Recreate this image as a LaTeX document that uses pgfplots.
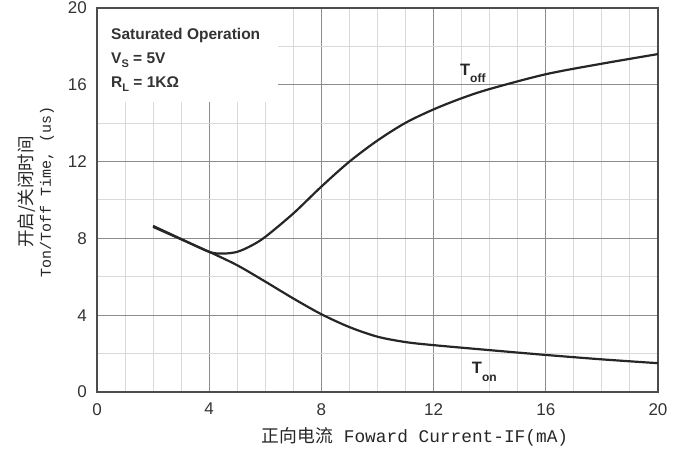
\documentclass[border=0pt]{standalone}
\usepackage{fontspec}
\setmainfont{Liberation Sans}
\setmonofont{Liberation Mono}
\newfontfamily\cjk{Noto Sans CJK SC}
\usepackage{pgfplots}
\pgfplotsset{compat=1.18}
\begin{document}
\begin{tikzpicture}
\begin{axis}[name=ax, scale only axis, width=561pt, height=384pt,
  xmin=0, xmax=20, ymin=0, ymax=20, clip=false,
  xtick={0,4,...,20}, ytick={0,4,...,20},
  minor x tick num=3, minor y tick num=1,
  grid=both,
  major grid style={line width=1.3pt, color=black!45},
  minor grid style={line width=1pt, color=black!15},
  major tick length=0pt, minor tick length=0pt,
  axis line style={line width=1.8pt, color=black!70},
  tick label style={font=\fontsize{17}{17}\selectfont, color=black!80},
  /pgf/number format/assume math mode=true,
  yticklabel style={inner sep=0pt, xshift=-10pt},
  xticklabel style={inner sep=0pt, yshift=-11pt},
]
\fill[white] ([xshift=1pt,yshift=-1pt]axis cs:0,20) rectangle (axis cs:6.45,15.1);

\addplot[smooth, line width=2.2pt, color=black!85] coordinates {
(2,8.6) (3,7.95) (4,7.3) (5,6.6) (6,5.75) (7,4.87) (8,4.05) (9,3.38) (10,2.88) (11,2.6) (12,2.44) (14,2.18) (16,1.93) (18,1.7) (20,1.5)};
\addplot[smooth, line width=2.2pt, color=black!85] coordinates {
(2,8.65) (3,7.97) (4,7.3) (4.5,7.21) (5,7.3) (5.5,7.62) (6,8.08) (7,9.3) (8,10.7) (9,12.0) (10,13.1) (11,14.02) (12,14.72) (13,15.3) (14,15.78) (16,16.55) (18,17.1) (20,17.6)};

\node[anchor=base west, font=\fontsize{15.5}{15.5}\selectfont\bfseries, color=black!80, inner sep=0pt] at (axis cs:0.5,18.37) {Saturated Operation};
\node[anchor=base west, font=\fontsize{15.5}{15.5}\selectfont\bfseries, color=black!80, inner sep=0pt] at (axis cs:0.5,17.1) {V\raisebox{-4pt}{\fontsize{11}{11}\selectfont S} = 5V};
\node[anchor=base west, font=\fontsize{15.5}{15.5}\selectfont\bfseries, color=black!80, inner sep=0pt] at (axis cs:0.5,15.87) {R\raisebox{-4pt}{\fontsize{11}{11}\selectfont L} = 1KΩ};

\node[anchor=base west, font=\fontsize{16.5}{16.5}\selectfont\bfseries, color=black!85, inner sep=0pt] at (axis cs:12.94,16.5) {T\raisebox{-7pt}{\fontsize{12}{12}\selectfont off}};
\node[anchor=base west, font=\fontsize{16.5}{16.5}\selectfont\bfseries, color=black!85, inner sep=0pt] at (axis cs:13.36,0.94) {T\raisebox{-8pt}{\fontsize{12}{12}\selectfont on}};

\node[rotate=90, font=\cjk\fontsize{17.5}{17.5}\selectfont, color=black!85] at (axis description cs:-0.1248,0.521) {开启/关闭时间};
\node[rotate=90, font=\ttfamily\fontsize{15}{15}\selectfont, color=black!85] at (axis description cs:-0.0891,0.521) {Ton/Toff Time, (us)};
\node[font=\fontsize{17.8}{17.8}\selectfont, color=black!85] at (axis description cs:0.567,-0.117) {{\cjk 正向电流}{\ttfamily\ Foward Current-IF(mA)}};
\end{axis}
\pgfresetboundingbox
\path[use as bounding box] ([shift={(-97pt,-60pt)}]ax.south west) rectangle ([shift={(28pt,8pt)}]ax.north east);
\end{tikzpicture}
\end{document}
